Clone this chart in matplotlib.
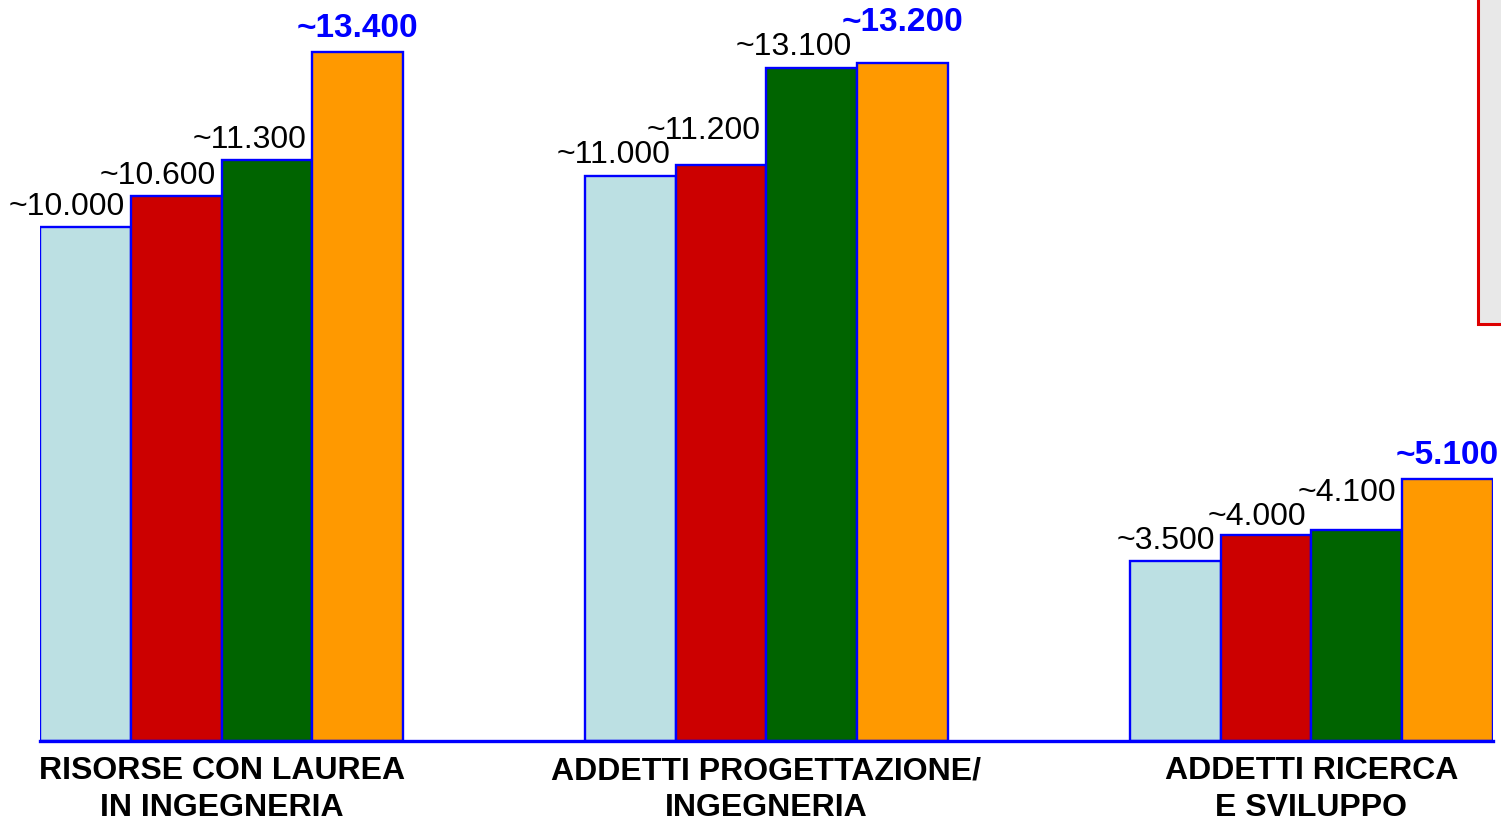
import matplotlib
matplotlib.use("Agg")
import matplotlib.pyplot as plt
from matplotlib.patches import Rectangle
import numpy as np

plt.rcParams['font.family'] = ['Liberation Sans', 'DejaVu Sans']

categories = ["RISORSE CON LAUREA\nIN INGEGNERIA",
              "ADDETTI PROGETTAZIONE/\nINGEGNERIA",
              "ADDETTI RICERCA\nE SVILUPPO"]
series_1 = [10000, 11000, 3500]
series_2 = [10600, 11200, 4000]
series_3 = [11300, 13100, 4100]
series_4 = [13400, 13200, 5100]
value_labels_1 = ["~10.000", "~11.000", "~3.500"]
value_labels_2 = ["~10.600", "~11.200", "~4.000"]
value_labels_3 = ["~11.300", "~13.100", "~4.100"]
value_labels_4 = ["~13.400", "~13.200", "~5.100"]

series = [series_1, series_2, series_3, series_4]
labels = [value_labels_1, value_labels_2, value_labels_3, value_labels_4]
colors = ["#bce0e3", "#cc0000", "#006400", "#ff9900"]

DPI = 100
fig = plt.figure(figsize=(15.01, 8.23), dpi=DPI)
ax = fig.add_axes([40 / 1501, 82 / 823, 1453 / 1501, 741 / 823])

width = 1 / 6
x = np.arange(len(categories))
annots = [[] for _ in categories]
for i, (vals, labs, col) in enumerate(zip(series, labels, colors)):
    pos = x + (i - 1.5) * width
    ax.bar(pos, vals, width=width, color=col, edgecolor="#0000ff",
           linewidth=1.7, zorder=2)
    for g, (p, v, t) in enumerate(zip(pos, vals, labs)):
        if i == len(series) - 1:
            a = ax.annotate(t, (p, v), xytext=(0, 6), textcoords="offset points",
                            ha="center", va="bottom", fontsize=24,
                            fontweight="bold", color="#0000ff")
        else:
            a = ax.annotate(t, (p + width / 2, v), xytext=(-4, 4),
                            textcoords="offset points", ha="right", va="bottom",
                            fontsize=23, color="black")
        annots[g].append(a)

ax.set_xlim(-1 / 3, 2 + 1 / 3)
ax.set_ylim(0, 14420)
ax.set_xticks(x)
ax.set_xticklabels(categories, fontsize=23, fontweight="bold",
                   linespacing=1.3)
ax.tick_params(axis="x", length=0, pad=11)
ax.set_yticks([])
for s in ["top", "right", "left"]:
    ax.spines[s].set_visible(False)
ax.spines["bottom"].set_color("#0000ff")
ax.spines["bottom"].set_linewidth(2.4)
ax.patch.set_alpha(0)

# Lift a value label when it would collide with its left neighbour
fig.canvas.draw()
renderer = fig.canvas.get_renderer()
for group in annots:
    for k in range(1, len(group)):
        prev = group[k - 1].get_window_extent(renderer)
        cur = group[k].get_window_extent(renderer)
        if cur.x0 < prev.x1 and cur.y0 < prev.y1 and cur.y1 > prev.y0:
            shift_px = prev.y1 - cur.y0 - 6
            dx, dy = group[k].xyann
            group[k].xyann = (dx, dy + shift_px * 72 / DPI)
            fig.canvas.draw()

# Legend frame at the top-right corner
fig.patches.append(Rectangle((1478 / 1501, 1 - 324 / 823), 0.05, 0.5,
                             transform=fig.transFigure, facecolor="#e8e8e8",
                             edgecolor="#dd0000", linewidth=2.2, zorder=0))

fig.savefig("out.png", dpi=DPI)
